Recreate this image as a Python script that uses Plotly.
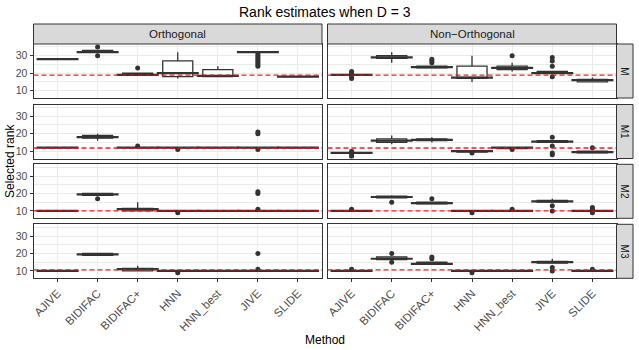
import plotly.graph_objects as go

# Methods on the x axis
methods = ["AJIVE", "BIDIFAC", "BIDIFAC+", "HNN", "HNN_best", "JIVE", "SLIDE"]
settings = ["Orthogonal", "Non−Orthogonal"]
ranks = ["M", "M1", "M2", "M3"]

# Box stats per method: (lower whisker, q1, median, q3, upper whisker)
orth_M = [(28, 28, 28, 28, 28), (32, 32, 32, 33, 33), (19, 19, 19, 20, 20), (17, 18, 20, 27, 32),
          (18, 18, 18.5, 22, 24), (32, 32, 32, 32, 32), (18, 18, 18, 18, 18)]
orth_M_out = [[], [30, 35], [23], [], [], [24, 25, 26, 27, 28, 29, 30, 31], []]
non_M = [(19, 19, 19, 19, 19), (26, 28.5, 29, 30, 32), (23, 23, 23.5, 24, 24), (15, 17, 17.5, 24, 30),
         (21, 22, 23, 24, 26), (20, 20, 20, 21, 21), (15, 15, 16, 16.5, 17.5)]
non_M_out = [[17, 18, 20, 21], [], [26, 27, 28], [], [30], [18, 24, 27, 29], []]

orth_M1 = [(12, 12, 12, 12, 12), (16, 17.5, 18, 19, 20), (12, 12, 12, 12, 12), (12, 12, 12, 12, 12),
           (12, 12, 12, 12, 12), (12, 12, 12, 12, 12), (12, 12, 12, 12, 12)]
orth_M1_out = [[], [], [13], [11], [], [11, 20, 21], []]
non_M1 = [(9, 9, 9, 9, 9), (14, 15, 16, 17, 19), (15, 16, 16.5, 17, 18), (9.5, 9.5, 10, 10, 10),
          (11.5, 11.5, 12, 12, 12), (15, 15, 15.5, 16, 16), (9, 9, 9.5, 10, 10)]
non_M1_out = [[7, 8, 10], [], [], [9], [11], [8, 9, 13, 18], [12]]

orth_M2 = [(10, 10, 10, 10, 10), (19, 19, 19.5, 20, 20), (10, 10, 11, 11.5, 15), (10, 10, 10, 10, 10),
           (10, 10, 10, 10, 10), (10, 10, 10, 10, 10), (10, 10, 10, 10, 10)]
orth_M2_out = [[], [17], [], [9], [], [11, 20, 21], []]
non_M2 = [(10, 10, 10, 10, 10), (17.5, 17.5, 18, 18.5, 19), (14, 14, 14.5, 15, 15), (10, 10, 10, 10, 10),
          (10, 10, 10, 10, 10), (15, 15, 15.5, 16, 17), (10, 10, 10, 10, 10)]
non_M2_out = [[11], [15], [17], [9], [11], [10, 13], [9, 11, 12]]

orth_M3 = [(10, 10, 10, 10, 10), (19, 19, 19.5, 20, 20), (10, 10, 11, 11.5, 13), (10, 10, 10, 10, 10),
           (10, 10, 10, 10, 10), (10, 10, 10, 10, 10), (10, 10, 10, 10, 10)]
orth_M3_out = [[], [], [], [9], [], [11, 20], []]
non_M3 = [(10, 10, 10, 10, 10), (16.5, 16.5, 17, 18, 18), (14, 14, 14, 15, 15), (10, 10, 10, 10, 10),
          (10, 10, 10, 10, 10), (14.5, 14.5, 15, 15.5, 17), (10, 10, 10, 10, 10)]
non_M3_out = [[11], [15, 20], [17, 18], [9], [], [10, 12], [11]]

# true rank (red dashed line) per row
true_rank = [18.9, 11.8, 10, 10.6]

panels = [[(orth_M, orth_M_out), (non_M, non_M_out)],
          [(orth_M1, orth_M1_out), (non_M1, non_M1_out)],
          [(orth_M2, orth_M2_out), (non_M2, non_M2_out)],
          [(orth_M3, orth_M3_out), (non_M3, non_M3_out)]]

W, H = 639, 350
col_px = [(33.5, 322), (327.5, 616.5)]
row_top = [44, 104.5, 164.3, 224.3]
row_h = 54
dark = "#333333"
font = "Liberation Sans, Arial, sans-serif"

fig = go.Figure()
layout = {}
shapes = []
annotations = []

for r in range(4):
    for c in range(2):
        i = r * 2 + c + 1
        xa = "x" if i == 1 else f"x{i}"
        ya = "y" if i == 1 else f"y{i}"
        stats, outs = panels[r][c]
        lo = [s[0] for s in stats]
        q1 = [s[1] for s in stats]
        med = [s[2] for s in stats]
        q3 = [s[3] for s in stats]
        hi = [s[4] for s in stats]

        fig.add_trace(go.Box(x=methods, q1=q1, median=med, q3=q3, lowerfence=lo, upperfence=hi,
                             fillcolor="white", line=dict(color=dark, width=1.3), whiskerwidth=0,
                             width=0.75, boxpoints=False, showlegend=False, hoverinfo="skip",
                             xaxis=xa, yaxis=ya))
        # thicker median line like ggplot
        fig.add_trace(go.Scatter(x=methods, y=med, mode="markers", showlegend=False, hoverinfo="skip",
                                 marker=dict(symbol="line-ew", size=30, line=dict(color=dark, width=2.2)),
                                 xaxis=xa, yaxis=ya))
        ox, oy = [], []
        for m, vals in zip(methods, outs):
            for v in vals:
                ox.append(m)
                oy.append(v)
        fig.add_trace(go.Scatter(x=ox, y=oy, mode="markers", showlegend=False, hoverinfo="skip",
                                 marker=dict(color=dark, size=5), xaxis=xa, yaxis=ya))

        x0, x1 = col_px[c]
        top = row_top[r]
        layout["xaxis" if i == 1 else f"xaxis{i}"] = dict(
            domain=[x0 / W, x1 / W], anchor=ya, type="category", categoryorder="array",
            categoryarray=methods, range=[-0.6, 6.6], showgrid=True, gridcolor="#EBEBEB", gridwidth=1,
            showline=True, mirror=True, linecolor=dark, linewidth=1, zeroline=False, automargin=False,
            ticks="outside" if r == 3 else "", ticklen=3, tickcolor=dark,
            showticklabels=(r == 3), tickangle=-45, tickfont=dict(size=11.5, color="#4D4D4D", family=font))
        layout["yaxis" if i == 1 else f"yaxis{i}"] = dict(
            domain=[1 - (top + row_h) / H, 1 - top / H], anchor=xa, range=[5.8, 36.7],
            tickvals=[10, 20, 30], showgrid=True, gridcolor="#EBEBEB", gridwidth=1,
            minor=dict(tickvals=[5, 15, 25, 35], showgrid=True, gridcolor="#EBEBEB", gridwidth=0.5),
            showline=True, mirror=True, linecolor=dark, linewidth=1, zeroline=False, automargin=False,
            ticks="outside" if c == 0 else "", ticklen=3, tickcolor=dark,
            showticklabels=(c == 0), tickfont=dict(size=10.5, color="#4D4D4D", family=font))

        shapes.append(dict(type="line", xref=f"{xa} domain", yref=ya, x0=0, x1=1,
                           y0=true_rank[r], y1=true_rank[r],
                           line=dict(color="rgba(255,0,0,0.9)", width=1.3, dash="5px,3px")))


def label(text, x, y, size, color="black", angle=0):
    return dict(text=text, xref="paper", yref="paper", x=x / W, y=1 - y / H, xanchor="center",
                yanchor="middle", showarrow=False, textangle=angle,
                font=dict(size=size, color=color, family=font))


# column strips
for c in range(2):
    x0, x1 = col_px[c]
    shapes.append(dict(type="rect", xref="paper", yref="paper", x0=x0 / W, x1=x1 / W,
                       y0=1 - 44 / H, y1=1 - 24 / H, fillcolor="#D9D9D9", line=dict(color=dark, width=1)))
    annotations.append(label(settings[c], (x0 + x1) / 2, 34, 11.5, "#1A1A1A"))

# row strips
for r in range(4):
    top = row_top[r]
    shapes.append(dict(type="rect", xref="paper", yref="paper", x0=616.5 / W, x1=633 / W,
                       y0=1 - (top + row_h) / H, y1=1 - top / H, fillcolor="#D9D9D9",
                       line=dict(color=dark, width=1)))
    annotations.append(label(ranks[r], 624.75, top + row_h / 2, 10, "#1A1A1A", 90))

annotations.append(label("Rank estimates when D = 3", 325, 12, 14))
annotations.append(label("Selected rank", 10, 161, 12, angle=-90))
annotations.append(label("Method", 325, 340, 12))

fig.update_layout(width=W, height=H, margin=dict(l=0, r=0, t=0, b=0, autoexpand=False),
                  plot_bgcolor="white", paper_bgcolor="white", shapes=shapes,
                  annotations=annotations, **layout)

# drop the default page margin so the figure sits at the window origin
fig.write_html("out.html", config={"displayModeBar": False},
               post_script="document.body.style.margin='0';")
